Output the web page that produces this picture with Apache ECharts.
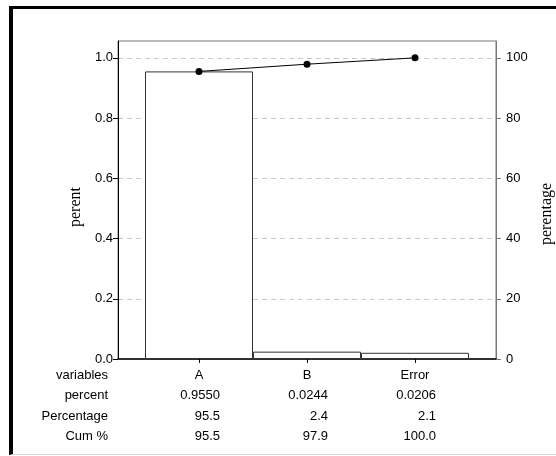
<!DOCTYPE html>
<html>
<head>
<meta charset="utf-8">
<script src="https://cdn.jsdelivr.net/npm/echarts@6/dist/echarts.min.js"></script>
<style>
  html, body { margin: 0; padding: 0; background: #fff; }
  #frame {
    position: absolute; left: 9px; top: 6px; width: 560px; height: 449px;
    border-top: 3px solid #000; border-left: 4px solid #000; border-bottom: 1px solid #d8d8d8;
    box-sizing: border-box;
  }
  #chart { position: absolute; left: 0; top: 0; width: 556px; height: 456px; }
</style>
</head>
<body>
<div id="frame"></div>
<div id="chart"></div>
<script>
// Pareto chart of variable contributions
const categories = ['A', 'B', 'Error'];
const percent = [0.9550, 0.0244, 0.0206];
const percentage = [95.5, 2.4, 2.1];
const cumPercent = [95.5, 97.9, 100.0];
const rowHeaders = ['variables', 'percent', 'Percentage', 'Cum %'];
const leftTicks = [0, 0.2, 0.4, 0.6, 0.8, 1.0];
const rightTicks = [0, 20, 40, 60, 80, 100];
const catPositions = [0, 1, 2];

const sans = 'Liberation Sans';
const serif = 'Liberation Serif';

const chart = echarts.init(document.getElementById('chart'), null, { renderer: 'canvas' });

chart.setOption({
  animation: false,
  backgroundColor: 'transparent',
  grid: {
    left: 118, right: 60, top: 41, bottom: 97,
    outerBoundsMode: 'none', containLabel: false,
    show: true, borderColor: '#777', borderWidth: 1, backgroundColor: 'transparent'
  },
  xAxis: {
    type: 'value', min: -0.75, max: 2.75,
    axisLine: { show: true, onZero: false, lineStyle: { color: '#000', width: 1.5 } },
    axisTick: { show: true, customValues: catPositions, length: 4, lineStyle: { color: '#000' } },
    splitLine: { show: false },
    axisLabel: {
      customValues: catPositions,
      margin: 6,
      color: '#000', fontFamily: sans, fontSize: 13, lineHeight: 20.4,
      formatter: function (v) {
        const i = Math.round(v);
        return '{c|' + categories[i] + '}\n{n|' + percent[i].toFixed(4) + '}\n{n|' +
          percentage[i].toFixed(1) + '}\n{n|' + cumPercent[i].toFixed(1) + '}';
      },
      rich: {
        c: { width: 42, align: 'center', fontFamily: sans, fontSize: 13, lineHeight: 20.4, color: '#000' },
        n: { width: 42, align: 'right', fontFamily: sans, fontSize: 13, lineHeight: 20.4, color: '#000' }
      }
    }
  },
  yAxis: [
    {
      type: 'value', min: 0, max: 1.056, position: 'left',
      name: 'perent', nameLocation: 'middle', nameGap: 28, nameRotate: 90,
      nameTextStyle: { fontFamily: serif, fontSize: 16, color: '#000', padding: [0, 14, 0, 0] },
      axisLine: { show: true, onZero: false, lineStyle: { color: '#000', width: 1 } },
      axisTick: { show: true, customValues: leftTicks, length: 5, lineStyle: { color: '#000' } },
      axisLabel: {
        customValues: leftTicks, margin: 5, color: '#000', fontFamily: sans, fontSize: 13,
        formatter: function (v) { return v.toFixed(1); }
      },
      splitLine: { show: true, lineStyle: { color: '#c8c8c8', type: [5, 4], width: 1 } }
    },
    {
      type: 'value', min: 0, max: 105.6, position: 'right',
      name: 'perentage', nameLocation: 'middle', nameGap: 33, nameRotate: 90,
      nameTextStyle: { fontFamily: serif, fontSize: 16, color: '#000', padding: [0, 28, 0, 0] },
      axisLine: { show: true, onZero: false, lineStyle: { color: '#777', width: 1 } },
      axisTick: { show: true, customValues: rightTicks, length: 5, lineStyle: { color: '#777' } },
      axisLabel: {
        customValues: rightTicks, margin: 10, color: '#000', fontFamily: sans, fontSize: 13
      },
      splitLine: { show: false }
    }
  ],
  graphic: [
    {
      type: 'text', x: 108, y: 365,
      style: {
        text: rowHeaders.join('\n'), align: 'right', verticalAlign: 'top',
        font: '13px "' + sans + '"', lineHeight: 20.4, fill: '#000'
      }
    }
  ],
  series: [
    {
      type: 'bar', yAxisIndex: 0, barWidth: 108,
      data: percent.map(function (v, i) { return [catPositions[i], v]; }),
      itemStyle: { color: '#fff', borderColor: '#333', borderWidth: 1 },
      z: 2
    },
    {
      type: 'line', yAxisIndex: 1,
      data: cumPercent.map(function (v, i) { return [catPositions[i], v]; }),
      symbol: 'circle', symbolSize: 7,
      lineStyle: { color: '#000', width: 1 },
      itemStyle: { color: '#000' },
      z: 3
    }
  ]
});
</script>
</body>
</html>
